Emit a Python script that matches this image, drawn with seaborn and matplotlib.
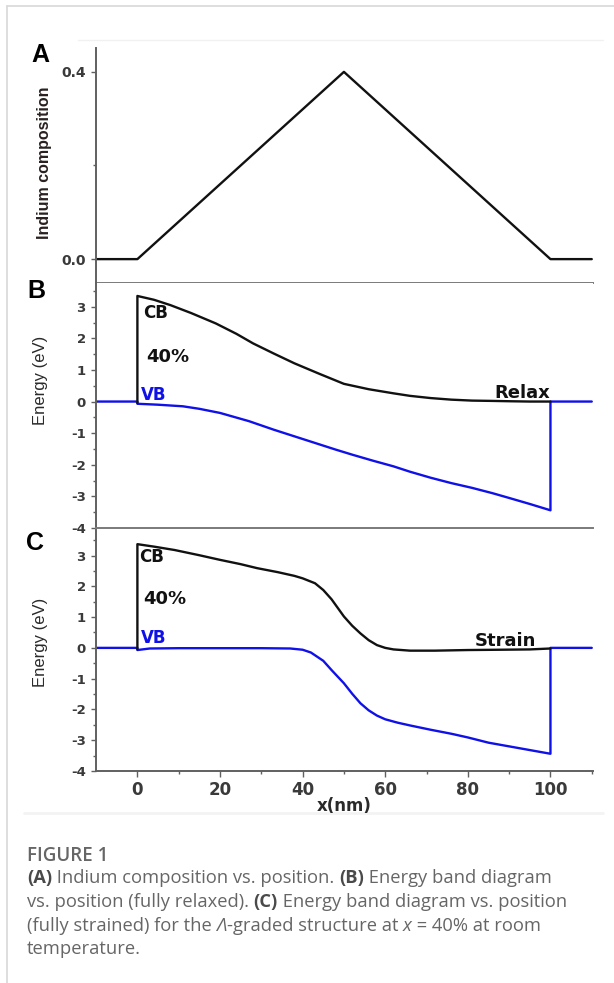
import matplotlib
matplotlib.use("Agg")
import matplotlib.pyplot as plt
from matplotlib.lines import Line2D
from matplotlib.ticker import MultipleLocator, FixedLocator
import seaborn as sns

# ---- data -------------------------------------------------------------
# (A) indium composition profile
comp_x = [-10, 0, 50, 100, 110]
comp_y = [0.0, 0.0, 0.4, 0.0, 0.0]

# (B) fully relaxed band edges
relax_cb_x = [0, 0, 4, 8, 13, 19, 24, 28, 33, 38, 44, 50, 56, 62, 66, 71, 76, 81, 86, 90, 95, 100]
relax_cb_e = [-0.05, 3.34, 3.22, 3.05, 2.80, 2.47, 2.14, 1.84, 1.52, 1.21, 0.88, 0.56, 0.39, 0.26, 0.18, 0.11, 0.06, 0.03, 0.02, 0.01, 0.0, 0.0]
relax_vb_x = [-10, 0, 0, 5, 11, 15, 20, 27, 33, 38, 43, 48, 52, 57, 62, 66, 71, 76, 81, 86, 90, 95, 100, 100, 110]
relax_vb_e = [0.0, 0.0, -0.07, -0.10, -0.15, -0.23, -0.36, -0.62, -0.89, -1.10, -1.31, -1.52, -1.68, -1.87, -2.05, -2.22, -2.41, -2.58, -2.73, -2.90, -3.05, -3.24, -3.44, 0.0, 0.0]

# (C) fully strained band edges
strain_cb_x = [0, 0, 4, 9, 15, 20, 25, 29, 34, 38, 40, 43, 45, 47, 50, 52, 54, 56, 58, 60, 62, 66, 72, 80, 88, 95, 100]
strain_cb_e = [-0.05, 3.37, 3.29, 3.18, 3.01, 2.86, 2.72, 2.59, 2.46, 2.34, 2.26, 2.10, 1.88, 1.58, 1.02, 0.72, 0.47, 0.25, 0.09, 0.0, -0.05, -0.09, -0.09, -0.07, -0.06, -0.05, -0.02]
strain_vb_x = [-10, 0, 0, 3, 10, 20, 30, 37, 40, 42, 45, 47, 50, 52, 54, 56, 58, 60, 63, 66, 71, 76, 80, 85, 90, 95, 100, 100, 110]
strain_vb_e = [0.0, 0.0, -0.07, -0.02, -0.01, -0.01, -0.01, -0.02, -0.06, -0.15, -0.42, -0.72, -1.15, -1.49, -1.80, -2.03, -2.20, -2.32, -2.43, -2.52, -2.66, -2.79, -2.91, -3.08, -3.20, -3.32, -3.44, 0.0, 0.0]

x_ticks = [0, 20, 40, 60, 80, 100]
e_ticks = [-4, -3, -2, -1, 0, 1, 2, 3]
comp_ticks = [0.0, 0.4]
comp_tick_labels = ["0.0", "0.4"]

# ---- style ------------------------------------------------------------
sns.set_theme(style="ticks")
plt.rcParams["font.family"] = ["DejaVu Sans"]
plt.rcParams["axes.unicode_minus"] = False

BLACK = "#111111"
BLUE = "#1010e8"
SPINE = "#606060"
TICKLBL = "#3a3a3a"
LW = 1.7

fig = plt.figure(figsize=(6.14, 9.83), dpi=100)
W, H = 614.0, 983.0


def axes_px(left, top, right, bottom):
    return fig.add_axes([left / W, 1 - bottom / H, (right - left) / W, (bottom - top) / H])


AX_L, AX_R = 96.5, 593
axA = axes_px(AX_L, 48, AX_R, 283)
axB = axes_px(AX_L, 283, AX_R, 528)
axC = axes_px(AX_L, 530, AX_R, 771)

XLIM = (-9.9, 110.3)


def band(ax, x, y, color):
    sns.lineplot(x=x, y=y, ax=ax, color=color, lw=LW, sort=False,
                 estimator=None, legend=False)


def style_axis(ax, show_x, ylabelsize=9.5):
    ax.set_xlim(*XLIM)
    for s in ("top", "right"):
        ax.spines[s].set_visible(False)
    for s in ("left", "bottom"):
        ax.spines[s].set_color(SPINE)
        ax.spines[s].set_linewidth(1.4)
    ax.tick_params(axis="y", which="major", direction="out", length=3.8, width=1,
                   color=SPINE, pad=4, labelsize=ylabelsize, labelcolor=TICKLBL)
    ax.tick_params(axis="y", which="minor", direction="out", length=2.2, width=1,
                   color=SPINE)
    for lbl in ax.get_yticklabels():
        lbl.set_fontweight("bold")
    if show_x:
        ax.xaxis.set_major_locator(FixedLocator(x_ticks))
        ax.xaxis.set_minor_locator(MultipleLocator(10))
        ax.tick_params(axis="x", which="major", direction="out", length=4, width=1,
                       color=SPINE, pad=3.5, labelsize=12, labelcolor=TICKLBL)
        ax.tick_params(axis="x", which="minor", direction="out", length=2, width=1,
                       color=SPINE)
        for lbl in ax.get_xticklabels():
            lbl.set_fontweight("bold")
    else:
        ax.set_xticks([])
        ax.tick_params(axis="x", which="both", length=0, labelbottom=False)
    ax.set_xlabel("")
    ax.set_ylabel("")


# (A)
band(axA, comp_x, comp_y, BLACK)
axA.set_ylim(-0.051, 0.451)
axA.yaxis.set_major_locator(FixedLocator(comp_ticks))
axA.yaxis.set_minor_locator(FixedLocator([0.2]))
axA.set_yticklabels(comp_tick_labels)
style_axis(axA, False, ylabelsize=10)
axA.spines["bottom"].set_color("#7a7a7a")

# (B)
band(axB, relax_vb_x, relax_vb_e, BLUE)
band(axB, relax_cb_x, relax_cb_e, BLACK)
axB.set_ylim(-4, 3.75)
axB.yaxis.set_major_locator(FixedLocator(e_ticks))
axB.yaxis.set_minor_locator(MultipleLocator(0.5))
style_axis(axB, False)
axB.spines["bottom"].set_color("#7a7a7a")

# (C)
band(axC, strain_vb_x, strain_vb_e, BLUE)
band(axC, strain_cb_x, strain_cb_e, BLACK)
axC.set_ylim(-4, 3.83)
axC.yaxis.set_major_locator(FixedLocator(e_ticks))
axC.yaxis.set_minor_locator(MultipleLocator(0.5))
style_axis(axC, True)

# axis titles
narrow = ["Liberation Sans Narrow", "Liberation Sans", "DejaVu Sans"]
fig.text(45 / W, 1 - 163 / H, "Indium composition", rotation=90, ha="center",
         va="center", fontsize=11.5, fontweight="bold", color="#2a2020", family=narrow)
fig.text(41 / W, 1 - 380 / H, "Energy (eV)", rotation=90, ha="center",
         va="center", fontsize=12, color="#2a2a2a", family=narrow)
fig.text(41 / W, 1 - 642 / H, "Energy (eV)", rotation=90, ha="center",
         va="center", fontsize=12, color="#2a2a2a", family=narrow)
fig.text(344.5 / W, 1 - 806 / H, "x(nm)", ha="center", va="center",
         fontsize=12, fontweight="bold", color="#2a2a2a")

# panel letters
for letter, (px, py) in {"A": (40, 55), "B": (36, 291), "C": (35, 543)}.items():
    fig.text(px / W, 1 - py / H, letter, ha="center", va="center", fontsize=18,
             fontweight="bold", color="black", family=["Liberation Sans", "DejaVu Sans"])

# in-plot annotations
ann = dict(fontweight="bold", va="center")
axB.text(1.3, 2.8, "CB", color=BLACK, ha="left", fontsize=12, **ann)
axB.text(2.2, 1.41, "40%", color=BLACK, ha="left", fontsize=13, **ann)
axB.text(0.9, 0.22, "VB", color=BLUE, ha="left", fontsize=12, **ann)
axB.text(100, 0.26, "Relax", color=BLACK, ha="right", fontsize=13, **ann)
axC.text(0.4, 2.95, "CB", color=BLACK, ha="left", fontsize=12, **ann)
axC.text(1.3, 1.59, "40%", color=BLACK, ha="left", fontsize=13, **ann)
axC.text(0.9, 0.33, "VB", color=BLUE, ha="left", fontsize=12, **ann)
axC.text(96.6, 0.21, "Strain", color=BLACK, ha="right", fontsize=13, **ann)

# page frame lines
fig.add_artist(Line2D([7 / W, 7 / W], [0, 1 - 6 / H], color="#d8d8d8", lw=1.2))
fig.add_artist(Line2D([7 / W, 1], [1 - 6 / H, 1 - 6 / H], color="#d8d8d8", lw=1.2))
fig.add_artist(Line2D([78 / W, 603 / W], [1 - 40 / H, 1 - 40 / H], color="#f1f1f1", lw=1.0))
fig.add_artist(Line2D([24 / W, 603 / W], [1 - 813 / H, 1 - 813 / H], color="#f3f3f3", lw=2.0))

# caption
cap_family = ["Open Sans", "DejaVu Sans"]
CAP = "#666666"
CAP_BOLD = "#4a4a4a"
CAP_SIZE = 13.2
CAP_X = 27.0
fig.text(CAP_X / W, 1 - 861 / H, "FIGURE 1", ha="left", va="baseline", fontsize=13.5,
         color=CAP, family=cap_family, fontweight="semibold")

caption_lines = [
    [("(A)", "bold", "normal"), (" Indium composition vs. position. ", "normal", "normal"),
     ("(B)", "bold", "normal"), (" Energy band diagram", "normal", "normal")],
    [("vs. position (fully relaxed). ", "normal", "normal"), ("(C)", "bold", "normal"),
     (" Energy band diagram vs. position", "normal", "normal")],
    [("(fully strained) for the ", "normal", "normal"), ("\u039b", "normal", "italic"),
     ("-graded structure at ", "normal", "normal"), ("x", "normal", "italic"),
     (" = 40% at room", "normal", "normal")],
    [("temperature.", "normal", "normal")],
]
baselines = [883, 907, 931, 954]

fig.canvas.draw()
renderer = fig.canvas.get_renderer()
for line, base in zip(caption_lines, baselines):
    x = CAP_X
    for txt, weight, style in line:
        t = fig.text(x / W, 1 - base / H, txt, ha="left", va="baseline", fontsize=CAP_SIZE,
                     color=CAP_BOLD if weight == "bold" else CAP, family=cap_family,
                     fontweight=weight, fontstyle=style)
        bb = t.get_window_extent(renderer)
        x += bb.width

fig.savefig("out.png", dpi=100)
